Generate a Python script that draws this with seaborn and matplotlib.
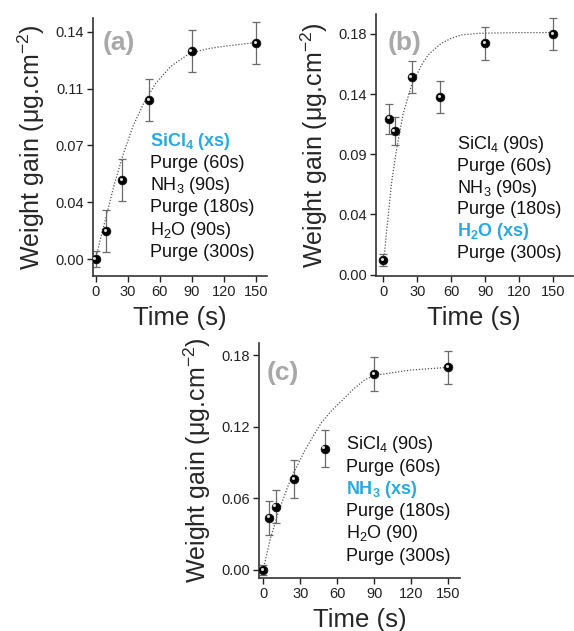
import matplotlib
matplotlib.use("Agg")
import matplotlib.pyplot as plt
import matplotlib.transforms as mtransforms
import seaborn as sns
import pandas as pd

# measured points (time in s, weight gain in ug/cm2, error bar half-height)
time_a = [0, 10, 25, 50, 90, 150]
gain_a = [0.000, 0.0174, 0.0488, 0.098, 0.128, 0.133]
err_a = [0.005, 0.0127, 0.013, 0.013, 0.0128, 0.013]

time_b = [0, 5, 10, 25, 50, 90, 150]
gain_b = [0.0107, 0.1165, 0.1074, 0.1475, 0.1329, 0.173, 0.180]
err_b = [0.0044, 0.0114, 0.0107, 0.012, 0.012, 0.0124, 0.012]

time_c = [0, 5, 10, 25, 50, 90, 150]
gain_c = [0.000, 0.0438, 0.053, 0.0759, 0.1016, 0.164, 0.1697]
err_c = [0.004, 0.0144, 0.014, 0.016, 0.0157, 0.014, 0.014]

# dotted fit curves
fit_t_a = [0, 5, 9, 17, 26, 35, 45, 56, 70, 88, 105, 120, 150]
fit_y_a = [0.000, 0.014, 0.024, 0.045, 0.065, 0.082, 0.096, 0.108, 0.1185, 0.1267, 0.1295, 0.1310, 0.1333]

fit_t_b = [0, 3, 7.5, 12, 17.5, 25, 34, 39.7, 45.6, 51.5, 60, 69, 85, 120, 150]
fit_y_b = [0.006, 0.033, 0.070, 0.095, 0.120, 0.142, 0.157, 0.1644, 0.169, 0.1731,
           0.1767, 0.1793, 0.1805, 0.181, 0.181]

fit_t_c = [0, 5.5, 12, 20, 25, 34, 40.6, 47, 55.5, 64, 73, 82, 90, 120, 150]
fit_y_c = [0.000, 0.025, 0.0475, 0.070, 0.082, 0.1005, 0.1122, 0.123, 0.1334, 0.142,
           0.1513, 0.159, 0.163, 0.1675, 0.1697]

x_ticks = [0, 30, 60, 90, 120, 150]
y_ticks_a = [0, 0.035, 0.07, 0.105, 0.14]
y_labels_a = ["0.00", "0.04", "0.07", "0.11", "0.14"]
y_ticks_b = [0, 0.045, 0.09, 0.135, 0.18]
y_labels_b = ["0.00", "0.04", "0.09", "0.14", "0.18"]
y_ticks_c = [0, 0.06, 0.12, 0.18]
y_labels_c = ["0.00", "0.06", "0.12", "0.18"]

steps_a = ["SiCl$_\\mathregular{4}$ (xs)", "Purge (60s)", "NH$_\\mathregular{3}$ (90s)",
           "Purge (180s)", "H$_\\mathregular{2}$O (90s)", "Purge (300s)"]
steps_b = ["SiCl$_\\mathregular{4}$ (90s)", "Purge (60s)", "NH$_\\mathregular{3}$ (90s)",
           "Purge (180s)", "H$_\\mathregular{2}$O (xs)", "Purge (300s)"]
steps_c = ["SiCl$_\\mathregular{4}$ (90s)", "Purge (60s)", "NH$_\\mathregular{3}$ (xs)",
           "Purge (180s)", "H$_\\mathregular{2}$O (90)", "Purge (300s)"]

sns.set_style("ticks")
plt.rcParams["font.family"] = ["Liberation Sans", "DejaVu Sans"]
plt.rcParams["mathtext.fontset"] = "custom"
plt.rcParams["mathtext.rm"] = "Liberation Sans"
plt.rcParams["mathtext.it"] = "Liberation Sans:italic"
plt.rcParams["mathtext.bf"] = "Liberation Sans:bold"

BLUE = "#29a9e1"
GREY_LABEL = "#a8a8a8"


def draw_panel(ax, t, g, e, ft, fy, xlim, ylim, yticks, ylabels, letter, letter_xy,
               steps, hl, text_xy, spacing):
    fit = pd.DataFrame({"t": ft, "y": fy})
    sns.lineplot(data=fit, x="t", y="y", ax=ax, color="#555555", lw=0.9,
                 linestyle=(0, (1, 1.4)), zorder=1)
    ax.errorbar(t, g, yerr=e, fmt="none", ecolor="#6a6a6a", elinewidth=0.9,
                capsize=2.6, capthick=0.9, zorder=2)
    pts = pd.DataFrame({"t": t, "g": g})
    sns.scatterplot(data=pts, x="t", y="g", ax=ax, color="black", s=40,
                    edgecolor="#111111", linewidth=0.5, zorder=3)
    shine = mtransforms.offset_copy(ax.transData, fig=ax.figure, x=-1.0, y=1.0, units="points")
    ax.scatter(t, g, s=5, color="#d8d8d8", transform=shine, zorder=4, linewidths=0)

    ax.set_xlim(*xlim)
    ax.set_ylim(*ylim)
    ax.set_xticks(x_ticks)
    ax.set_yticks(yticks)
    ax.set_yticklabels(ylabels)
    ax.tick_params(labelsize=10.5, length=4, width=1, colors="#222222", pad=2.5)
    sns.despine(ax=ax)
    for s in ["left", "bottom"]:
        ax.spines[s].set_linewidth(1.2)
        ax.spines[s].set_color("#333333")
    ax.set_xlabel("Time (s)", fontsize=18.5, labelpad=5)
    ax.set_ylabel("Weight gain (\u03bcg.cm$^\\mathregular{-2}$)", fontsize=18, labelpad=6)

    ax.text(letter_xy[0], letter_xy[1], letter, fontsize=19, fontweight="bold",
            color=GREY_LABEL, va="center", ha="left")
    for i, s in enumerate(steps):
        blue = i == hl
        ax.annotate(s, xy=text_xy, xycoords="data", xytext=(0, -i * spacing),
                    textcoords="offset points", fontsize=13, va="center", ha="left",
                    color=BLUE if blue else "#111111",
                    fontweight="bold" if blue else "normal")


fig = plt.figure(figsize=(5.74, 6.31), dpi=100)
ax_a = fig.add_axes([0.162, 0.5626, 0.303, 0.4089])
ax_b = fig.add_axes([0.6545, 0.5626, 0.3435, 0.4154])
ax_c = fig.add_axes([0.451, 0.084, 0.350, 0.3724])

draw_panel(ax_a, time_a, gain_a, err_a, fit_t_a, fit_y_a, (-2.5, 160.2), (-0.0103, 0.1484),
           y_ticks_a, y_labels_a, "(a)", (6.8, 0.1328), steps_a, 0, (50.8, 0.0723), 15.9)
draw_panel(ax_b, time_b, gain_b, err_b, fit_t_b, fit_y_b, (-6.7, 167.4), (-0.001, 0.195),
           y_ticks_b, y_labels_b, "(b)", (3.9, 0.1736), steps_b, 4, (64.8, 0.0970), 15.6)
draw_panel(ax_c, time_c, gain_c, err_c, fit_t_c, fit_y_c, (-3.5, 159.5), (-0.0067, 0.1901),
           y_ticks_c, y_labels_c, "(c)", (2.8, 0.1647), steps_c, 2, (66.8, 0.1047), 16.0)

fig.savefig("out.png", dpi=100)
